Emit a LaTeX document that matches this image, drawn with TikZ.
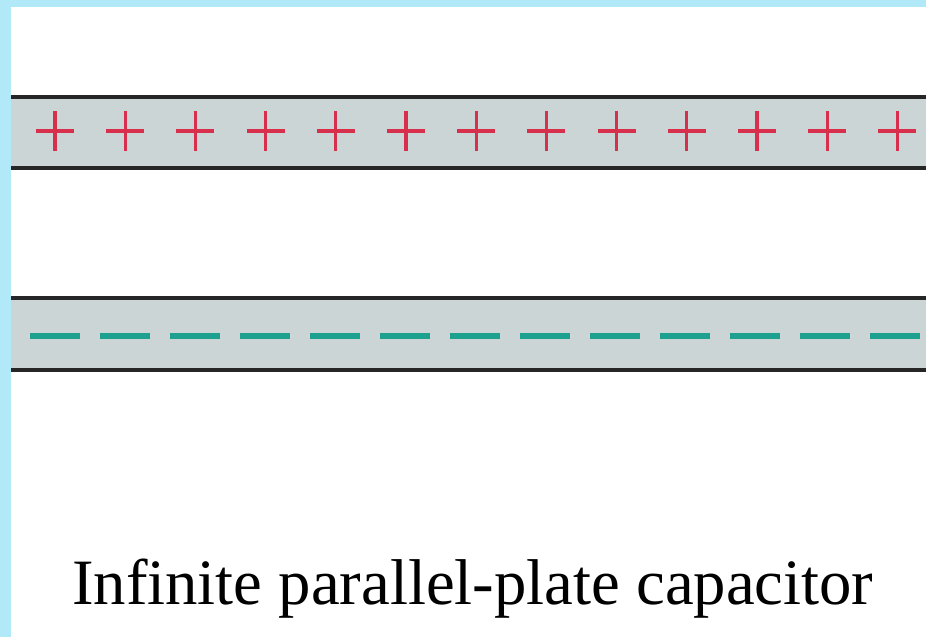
\documentclass[tikz,border=0pt]{standalone}
\usepackage{fontspec}
\setmainfont{Liberation Serif}
\definecolor{waterblue}{HTML}{B2E9F8}
\definecolor{platefill}{HTML}{CCD5D5}
\definecolor{posred}{HTML}{D8304C}
\definecolor{negteal}{HTML}{1EA08F}
\tikzset{
  plateedge/.style={line width=3.2pt, black!85},
  plusmark/.style={line width=3.2pt, posred},
  minusmark/.style={line width=5.5pt, negteal},
}
\begin{document}
\begin{tikzpicture}[x=1pt,y=-1pt]
  % page frame: watery blue border and white panel
  \fill[waterblue] (0,0) rectangle (926,637);
  \useasboundingbox (0,0) rectangle (926,637);
  \fill[white] (11,7) rectangle (926,637);

  % positive plate
  \fill[platefill] (11,97) rectangle (926,168);
  \draw[plateedge] (11,97) -- (926,97);
  \draw[plateedge] (11,168) -- (926,168);
  \foreach \k in {0,...,12}{
    \pgfmathsetmacro{\cx}{55+70.2*\k}
    \draw[plusmark] (\cx-19,131) -- (\cx+19,131);
    \draw[plusmark] (\cx,111) -- (\cx,151);
  }

  % negative plate
  \fill[platefill] (11,298) rectangle (926,370);
  \draw[plateedge] (11,298) -- (926,298);
  \draw[plateedge] (11,370) -- (926,370);
  \foreach \k in {0,...,12}{
    \pgfmathsetmacro{\dx}{30+70*\k}
    \draw[minusmark] (\dx,336) -- (\dx+50,336);
  }

  % caption
  \node[anchor=base west, inner sep=0pt, font=\fontsize{64.7}{70}\selectfont] (caption) at (72,604) {Infinite parallel-plate capacitor};
\end{tikzpicture}
\end{document}
